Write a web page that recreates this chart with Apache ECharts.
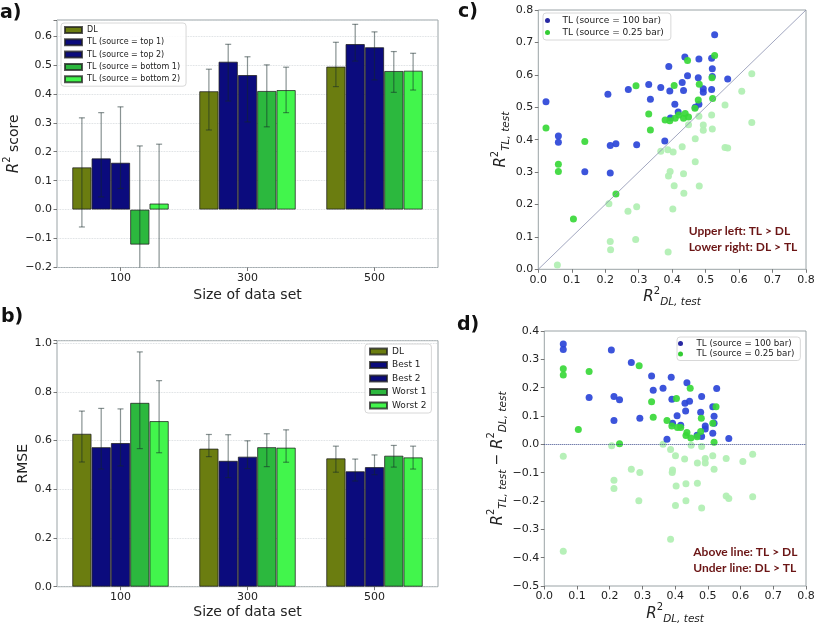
<!DOCTYPE html>
<html><head><meta charset="utf-8">
<script src="https://cdn.jsdelivr.net/npm/echarts@6.0.0/dist/echarts.min.js"></script>
<style>html,body{margin:0;padding:0;background:#fff;} #chart{width:817px;height:624px;}</style>
</head><body><div id="chart"></div>
<script>
// ---------- data ----------
const categories = ['100', '300', '500'];

// panel a: R2 score
const r2Names = ['DL', 'TL (source = top 1)', 'TL (source = top 2)', 'TL (source = bottom 1)', 'TL (source = bottom 2)'];
const r2_DL      = [0.146, 0.409, 0.494];
const r2_DL_lo   = [-0.060, 0.275, 0.425];
const r2_DL_hi   = [0.317, 0.485, 0.578];
const r2_top1    = [0.177, 0.511, 0.572];
const r2_top1_lo = [0.044, 0.375, 0.513];
const r2_top1_hi = [0.335, 0.571, 0.640];
const r2_top2    = [0.162, 0.465, 0.561];
const r2_top2_lo = [0.073, 0.303, 0.448];
const r2_top2_hi = [0.355, 0.528, 0.614];
const r2_bot1    = [-0.121, 0.410, 0.479];
const r2_bot1_lo = [-0.460, 0.286, 0.405];
const r2_bot1_hi = [0.220, 0.500, 0.546];
const r2_bot2    = [0.021, 0.413, 0.480];
const r2_bot2_lo = [-0.230, 0.335, 0.413];
const r2_bot2_hi = [0.226, 0.492, 0.540];

// panel b: RMSE
const rmseNames = ['DL', 'Best 1', 'Best 2', 'Worst 1', 'Worst 2'];
const rmse_DL      = [0.628, 0.567, 0.527];
const rmse_DL_lo   = [0.512, 0.534, 0.470];
const rmse_DL_hi   = [0.721, 0.625, 0.577];
const rmse_best1    = [0.573, 0.517, 0.474];
const rmse_best1_lo = [0.483, 0.448, 0.434];
const rmse_best1_hi = [0.732, 0.624, 0.524];
const rmse_best2    = [0.590, 0.534, 0.491];
const rmse_best2_lo = [0.496, 0.485, 0.460];
const rmse_best2_hi = [0.730, 0.599, 0.541];
const rmse_worst1    = [0.755, 0.573, 0.538];
const rmse_worst1_lo = [0.567, 0.493, 0.491];
const rmse_worst1_hi = [0.964, 0.628, 0.580];
const rmse_worst2    = [0.680, 0.571, 0.531];
const rmse_worst2_lo = [0.550, 0.511, 0.483];
const rmse_worst2_hi = [0.846, 0.644, 0.577];

// panel c: R2_TL vs R2_DL
const scatterNames = ['TL (source = 100 bar)', 'TL (source = 0.25 bar)'];
const cBlue = [[0.023,0.517],[0.060,0.411],[0.060,0.392],[0.139,0.301],[0.208,0.540],[0.215,0.382],[0.232,0.387],[0.215,0.297],[0.269,0.555],[0.294,0.384],[0.330,0.570],[0.335,0.525],[0.366,0.561],[0.378,0.396],[0.390,0.626],[0.393,0.550],[0.395,0.467],[0.408,0.509],[0.418,0.485],[0.430,0.576],[0.434,0.552],[0.438,0.655],[0.446,0.597],[0.480,0.649],[0.478,0.591],[0.480,0.509],[0.469,0.500],[0.493,0.557],[0.493,0.546],[0.518,0.651],[0.520,0.619],[0.520,0.595],[0.518,0.555],[0.527,0.724],[0.566,0.587]];
const cGreen = [[0.023,0.436],[0.060,0.324],[0.060,0.302],[0.139,0.394],[0.105,0.155],[0.232,0.232],[0.292,0.566],[0.330,0.479],[0.335,0.430],[0.379,0.461],[0.393,0.458],[0.406,0.567],[0.409,0.466],[0.420,0.476],[0.434,0.466],[0.439,0.481],[0.449,0.470],[0.446,0.644],[0.468,0.497],[0.478,0.522],[0.481,0.571],[0.519,0.591],[0.521,0.527],[0.527,0.660]];
const cPale = [[0.057,0.013],[0.211,0.202],[0.215,0.086],[0.216,0.060],[0.268,0.179],[0.294,0.193],[0.291,0.092],[0.366,0.364],[0.387,0.369],[0.394,0.302],[0.389,0.288],[0.403,0.362],[0.406,0.258],[0.402,0.186],[0.388,0.053],[0.430,0.378],[0.434,0.295],[0.435,0.235],[0.449,0.446],[0.480,0.472],[0.493,0.445],[0.493,0.429],[0.469,0.403],[0.469,0.332],[0.481,0.257],[0.518,0.476],[0.520,0.433],[0.558,0.507],[0.558,0.376],[0.566,0.374],[0.608,0.549],[0.638,0.603],[0.638,0.453]];
const diagonal = [[0, 0], [0.8, 0.8]];

// panel d: R2_TL - R2_DL vs R2_DL
const dBlue = [[0.058,0.354],[0.058,0.335],[0.205,0.333],[0.266,0.289],[0.137,0.165],[0.213,0.169],[0.230,0.157],[0.213,0.084],[0.292,0.092],[0.328,0.241],[0.333,0.191],[0.363,0.198],[0.388,0.237],[0.390,0.159],[0.392,0.074],[0.375,0.018],[0.406,0.101],[0.417,0.067],[0.430,0.145],[0.432,0.118],[0.436,0.217],[0.444,0.152],[0.467,0.032],[0.481,0.169],[0.478,0.113],[0.481,0.028],[0.492,0.065],[0.492,0.054],[0.515,0.133],[0.519,0.099],[0.519,0.074],[0.515,0.039],[0.527,0.197],[0.564,0.021]];
const dGreen = [[0.058,0.267],[0.058,0.245],[0.137,0.257],[0.104,0.052],[0.230,0.002],[0.290,0.277],[0.328,0.150],[0.333,0.096],[0.375,0.084],[0.390,0.065],[0.404,0.162],[0.407,0.059],[0.417,0.059],[0.433,0.031],[0.436,0.042],[0.446,0.198],[0.448,0.022],[0.467,0.027],[0.480,0.092],[0.478,0.045],[0.515,0.074],[0.525,0.133],[0.519,0.007]];
const dPale = [[0.058,-0.042],[0.058,-0.377],[0.206,-0.005],[0.213,-0.127],[0.213,-0.156],[0.266,-0.088],[0.292,-0.099],[0.289,-0.199],[0.363,0.000],[0.386,-0.018],[0.401,-0.040],[0.391,-0.099],[0.392,-0.091],[0.403,-0.147],[0.401,-0.216],[0.386,-0.335],[0.449,-0.003],[0.429,-0.052],[0.433,-0.139],[0.433,-0.199],[0.468,-0.066],[0.468,-0.137],[0.481,-0.008],[0.481,-0.225],[0.492,-0.050],[0.492,-0.066],[0.515,-0.040],[0.519,-0.088],[0.556,-0.050],[0.556,-0.182],[0.564,-0.191],[0.607,-0.061],[0.637,-0.035],[0.637,-0.185]];
const zeroLine = 0;

// ---------- styles ----------
const FONT = 'DejaVu Sans';
const barColors = ['#6b7d10', '#0b0b7d', '#0b0b7d', '#2cb83e', '#42f54c'];
const BAR_FRAC = 0.152;
const ERR_COLOR = 'rgba(20,40,40,0.5)';
const FRAME = '#9aa3a6';
const TXT = '#222';

const r2Vals = [r2_DL, r2_top1, r2_top2, r2_bot1, r2_bot2];
const r2Lo = [r2_DL_lo, r2_top1_lo, r2_top2_lo, r2_bot1_lo, r2_bot2_lo];
const r2Hi = [r2_DL_hi, r2_top1_hi, r2_top2_hi, r2_bot1_hi, r2_bot2_hi];
const rmseVals = [rmse_DL, rmse_best1, rmse_best2, rmse_worst1, rmse_worst2];
const rmseLo = [rmse_DL_lo, rmse_best1_lo, rmse_best2_lo, rmse_worst1_lo, rmse_worst2_lo];
const rmseHi = [rmse_DL_hi, rmse_best1_hi, rmse_best2_hi, rmse_worst1_hi, rmse_worst2_hi];

function fmt(step) {
  return function (v) {
    const k = v / step;
    if (Math.abs(k - Math.round(k)) > 1e-6) return '';
    const r = Math.round(v * 10) / 10;
    return (r < 0 ? '\u2212' : '') + Math.abs(r).toFixed(1);
  };
}

const rich = {
  i: {fontFamily: FONT, fontStyle: 'italic', fontSize: 15, color: TXT, lineHeight: 22, verticalAlign: 'middle'},
  s: {fontFamily: FONT, fontSize: 10, color: TXT, lineHeight: 12, verticalAlign: 'top'},
  b: {fontFamily: FONT, fontStyle: 'italic', fontSize: 10.5, color: TXT, lineHeight: 12, verticalAlign: 'bottom'},
  t: {fontFamily: FONT, fontSize: 14, color: TXT, lineHeight: 22, verticalAlign: 'middle'},
  m: {fontFamily: FONT, fontSize: 14, color: TXT, lineHeight: 22, verticalAlign: 'middle'}
};

const axisCommon = {
  axisLine: {show: false, onZero: false},
  axisTick: {show: true, length: 3.5, lineStyle: {color: '#555', width: 0.8}},
  axisLabel: {color: TXT, fontSize: 11, fontFamily: FONT, margin: 5},
  nameLocation: 'middle',
  nameTextStyle: {color: TXT, fontSize: 14, fontFamily: FONT, rich: rich}
};
const gridSplit = {show: true, lineStyle: {type: 'dotted', color: '#cfd4d8', width: 0.8}};

function catAxis(gi, gap) {
  return Object.assign({}, axisCommon, {
    gridIndex: gi, type: 'category', data: categories,
    axisTick: {show: true, alignWithLabel: true, length: 3.5, lineStyle: {color: '#555', width: 0.8}},
    name: 'Size of data set', nameGap: gap, splitLine: {show: false}
  });
}
function valAxis(gi, min, max, step, extra) {
  return Object.assign({}, axisCommon, {
    gridIndex: gi, type: 'value', min: min, max: max, interval: step,
    axisLabel: Object.assign({}, axisCommon.axisLabel, {formatter: fmt(step)}),
    splitLine: {show: false}
  }, extra);
}

function errRender(params, api) {
  const c = api.value(0), lo = api.value(1), hi = api.value(2), s = api.value(3);
  const band = api.size([1, 0])[0];
  const cx = api.coord([c, 0])[0] + (s - 2) * band * BAR_FRAC;
  const cs = params.coordSys;
  const bottom = cs.y + cs.height;
  let y1 = api.coord([c, hi])[1];
  let y2 = api.coord([c, lo])[1];
  const clipLo = y2 > bottom;
  if (clipLo) y2 = bottom;
  const st = {stroke: ERR_COLOR, lineWidth: 1.2};
  const ch = [
    {type: 'line', shape: {x1: cx, y1: y1, x2: cx, y2: y2}, style: st},
    {type: 'line', shape: {x1: cx - 3, y1: y1, x2: cx + 3, y2: y1}, style: st}
  ];
  if (!clipLo) ch.push({type: 'line', shape: {x1: cx - 3, y1: y2, x2: cx + 3, y2: y2}, style: st});
  return {type: 'group', children: ch};
}

const series = [];
function addBars(gi, names, vals, los, his) {
  for (let s = 0; s < 5; s++) {
    series.push({
      type: 'bar', name: names[s], xAxisIndex: gi, yAxisIndex: gi,
      data: vals[s], barWidth: (BAR_FRAC * 100) + '%', barGap: '0%',
      itemStyle: {color: barColors[s], borderColor: 'rgba(30,30,30,0.75)', borderWidth: 1},
      emphasis: {disabled: true}, silent: true
    });
  }
  const data = [];
  for (let s = 0; s < 5; s++) for (let c = 0; c < categories.length; c++) data.push([c, los[s][c], his[s][c], s]);
  series.push({type: 'custom', xAxisIndex: gi, yAxisIndex: gi, z: 5, silent: true,
    encode: {x: 0, y: [1, 2]}, data: data, renderItem: errRender});
}
addBars(0, r2Names, r2Vals, r2Lo, r2Hi);
addBars(1, rmseNames, rmseVals, rmseLo, rmseHi);

const BLUE = '#2b45d8', GREEN = '#38d838', PALE = '#b2efb4';
function addScatter(gi, blue, green, pale, mark) {
  series.push({type: 'scatter', name: 'pale', xAxisIndex: gi, yAxisIndex: gi, data: pale, symbolSize: 7,
    itemStyle: {color: PALE, opacity: 0.95}, silent: true, markLine: mark});
  series.push({type: 'scatter', name: scatterNames[0], xAxisIndex: gi, yAxisIndex: gi, data: blue, symbolSize: 7,
    itemStyle: {color: BLUE, opacity: 0.92}, silent: true});
  series.push({type: 'scatter', name: scatterNames[1], xAxisIndex: gi, yAxisIndex: gi, data: green, symbolSize: 7,
    itemStyle: {color: GREEN, opacity: 0.92}, silent: true});
}
addScatter(2, cBlue, cGreen, cPale, {silent: true, symbol: 'none', label: {show: false},
  lineStyle: {color: '#8a90b0', width: 0.8, type: 'solid'},
  data: [[{coord: diagonal[0]}, {coord: diagonal[1]}]]});
addScatter(3, dBlue, dGreen, dPale, {silent: true, symbol: 'none', label: {show: false},
  lineStyle: {color: '#3a4a8a', width: 1, type: 'dotted'},
  data: [{yAxis: zeroLine}]});

const legendBox = {orient: 'vertical', borderColor: '#d8d8d8', borderWidth: 1, borderRadius: 3,
  backgroundColor: 'rgba(255,255,255,0.85)', selectedMode: false};

const option = {
  animation: false,
  backgroundColor: '#fff',
  grid: [
    {left: 57, top: 20, width: 381, height: 247.5, show: true, borderColor: FRAME, borderWidth: 1, outerBoundsMode: 'none'},
    {left: 57, top: 340.7, width: 381, height: 246, show: true, borderColor: FRAME, borderWidth: 1, outerBoundsMode: 'none'},
    {left: 538.3, top: 10, width: 267.7, height: 259.3, show: true, borderColor: FRAME, borderWidth: 1, outerBoundsMode: 'none'},
    {left: 544.3, top: 331, width: 261.7, height: 255, show: true, borderColor: FRAME, borderWidth: 1, outerBoundsMode: 'none'}
  ],
  xAxis: [
    catAxis(0, 21),
    catAxis(1, 19),
    valAxis(2, 0, 0.8, 0.1, {name: '{i|R}{s|2}{b|DL, test}', nameGap: 16}),
    valAxis(3, 0, 0.8, 0.1, {name: '{i|R}{s|2}{b|DL, test}', nameGap: 16})
  ],
  yAxis: [
    valAxis(0, -0.2, 0.655, 0.1, {name: '{i|R}{s|2}{t| score}', nameGap: 28, splitLine: gridSplit}),
    valAxis(1, 0, 1.01, 0.2, {name: 'RMSE', nameGap: 26, splitLine: gridSplit}),
    valAxis(2, 0, 0.8, 0.1, {name: '{i|R}{s|2}{b|TL, test}', nameGap: 17}),
    valAxis(3, -0.5, 0.4, 0.1, {name: '{i|R}{s|2}{b|TL, test}{m| \u2212 }{i|R}{s|2}{b|DL, test}', nameGap: 26})
  ],
  legend: [
    Object.assign({}, legendBox, {data: r2Names, left: 61, top: 23, icon: 'rect', itemWidth: 17, itemHeight: 6,
      itemGap: 4.3, padding: [3, 6, 3, 3], textStyle: {fontSize: 8, fontFamily: FONT, color: TXT}}),
    Object.assign({}, legendBox, {data: rmseNames, left: 365, top: 344, icon: 'rect', itemWidth: 17, itemHeight: 6,
      itemGap: 4.5, padding: [3, 5, 3, 4], textStyle: {fontSize: 9, fontFamily: FONT, color: TXT}}),
    Object.assign({}, legendBox, {left: 543, top: 13, icon: 'circle', itemWidth: 20, itemHeight: 5, itemGap: 3,
      padding: [3, 7, 3, 2], textStyle: {fontSize: 9, fontFamily: FONT, color: TXT},
      data: [{name: scatterNames[0], itemStyle: {color: '#16169a'}}, {name: scatterNames[1], itemStyle: {color: '#22c822'}}]}),
    Object.assign({}, legendBox, {left: 677, top: 337, icon: 'circle', itemWidth: 22, itemHeight: 5, itemGap: 1.5,
      padding: [2, 6, 2, 1], textStyle: {fontSize: 8.7, fontFamily: FONT, color: TXT},
      data: [{name: scatterNames[0], itemStyle: {color: '#16169a'}}, {name: scatterNames[1], itemStyle: {color: '#22c822'}}]})
  ],
  graphic: [
    {type: 'text', x: 0, y: 13.5, style: {text: 'a)', font: 'bold 19px "DejaVu Sans"', fill: '#111', verticalAlign: 'middle'}},
    {type: 'text', x: 1, y: 317, style: {text: 'b)', font: 'bold 19px "DejaVu Sans"', fill: '#111', verticalAlign: 'middle'}},
    {type: 'text', x: 458, y: 12, style: {text: 'c)', font: 'bold 19px "DejaVu Sans"', fill: '#111', verticalAlign: 'middle'}},
    {type: 'text', x: 457, y: 325, style: {text: 'd)', font: 'bold 19px "DejaVu Sans"', fill: '#111', verticalAlign: 'middle'}},
    {type: 'text', x: 688.7, y: 230.7, style: {text: 'Upper left: TL > DL', font: 'bold 12px Lato', fill: '#6b1515', verticalAlign: 'middle'}},
    {type: 'text', x: 688.7, y: 247.3, style: {text: 'Lower right: DL > TL', font: 'bold 12px Lato', fill: '#6b1515', verticalAlign: 'middle'}},
    {type: 'text', x: 693.3, y: 552.3, style: {text: 'Above line: TL > DL', font: 'bold 12px Lato', fill: '#6b1515', verticalAlign: 'middle'}},
    {type: 'text', x: 693.3, y: 568.3, style: {text: 'Under line: DL > TL', font: 'bold 12px Lato', fill: '#6b1515', verticalAlign: 'middle'}}
  ],
  series: series
};

const chart = echarts.init(document.getElementById('chart'), null, {renderer: 'canvas'});
chart.setOption(option);
</script>
</body></html>
